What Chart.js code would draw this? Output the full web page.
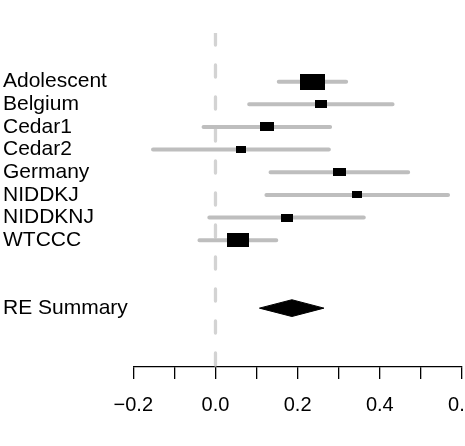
<!DOCTYPE html>
<html>
<head>
<meta charset="utf-8">
<script src="https://cdn.jsdelivr.net/npm/chart.js@4/dist/chart.umd.min.js"></script>
<style>
  html, body { margin: 0; padding: 0; background: #fff; overflow: hidden; }
  /* canvas is a bit wider than the window so the last tick label is cut like the original */
  #wrap { width: 465px; height: 446px; overflow: hidden; }
</style>
</head>
<body>
<div id="wrap"><canvas id="forestChart" width="468" height="446"></canvas></div>
<script>
// study data
const studies = ['Adolescent', 'Belgium', 'Cedar1', 'Cedar2', 'Germany', 'NIDDKJ', 'NIDDKNJ', 'WTCCC'];
const estimates = [0.235, 0.256, 0.125, 0.062, 0.301, 0.345, 0.173, 0.054];
const lower = [0.154, 0.082, -0.029, -0.152, 0.134, 0.124, -0.015, -0.039];
const upper = [0.318, 0.431, 0.279, 0.276, 0.469, 0.566, 0.361, 0.148];
const studyRows = [11, 10, 9, 8, 7, 6, 5, 4];

const summaryLabel = 'RE Summary';
const summaryRow = 1;
const summaryEst = 0.186;
const summaryLower = 0.107;
const summaryUpper = 0.264;

const xTicks = [-0.2, -0.1, 0.0, 0.1, 0.2, 0.3, 0.4, 0.5, 0.6];
const xTickLabels = ['\u22120.2', '', '0.0', '', '0.2', '', '0.4', '', '0.6'];

// row range of the plot region
const yMin = -1.6;
const yMax = 13.15;
const diamondHalf = 0.37;

// boxes sized by precision (1 / CI width), like a forest plot does
function makeBox(lo, hi) {
  const w = Math.round(1.5 + 3.8 / (hi - lo));
  const h = Math.round(w * 0.65);
  const c = document.createElement('canvas');
  c.width = w;
  c.height = h;
  const g = c.getContext('2d');
  g.fillStyle = '#000';
  g.fillRect(0, 0, w, h);
  return c;
}
const boxImages = studies.map((s, i) => makeBox(lower[i], upper[i]));

// CI segments, with a null point between them to break the line
const ciData = [];
studies.forEach((s, i) => {
  ciData.push({ x: lower[i], y: studyRows[i] });
  ciData.push({ x: upper[i], y: studyRows[i] });
  ciData.push({ x: estimates[i], y: null });
});

const diamondData = [
  { x: summaryLower, y: summaryRow },
  { x: summaryEst, y: summaryRow + diamondHalf },
  { x: summaryUpper, y: summaryRow },
  { x: summaryEst, y: summaryRow - diamondHalf },
  { x: summaryLower, y: summaryRow }
];

const rowLabels = {};
studies.forEach((s, i) => { rowLabels[studyRows[i]] = s; });
rowLabels[summaryRow] = summaryLabel;
const labelRows = studyRows.concat([summaryRow]);

const ctx = document.getElementById('forestChart').getContext('2d');
new Chart(ctx, {
  type: 'scatter',
  data: {
    datasets: [
      {
        label: 'zero',
        data: [{ x: 0, y: yMax }, { x: 0, y: yMin }],
        showLine: true,
        borderColor: '#d3d3d3',
        borderWidth: 3.3,
        borderDash: [12, 20],
        borderCapStyle: 'round',
        pointRadius: 0,
        order: 5
      },
      {
        label: 'ci',
        data: ciData,
        showLine: true,
        spanGaps: false,
        borderColor: '#bebebe',
        borderWidth: 4,
        borderCapStyle: 'round',
        pointRadius: 0,
        order: 3
      },
      {
        label: 'boxes',
        data: studies.map((s, i) => ({ x: estimates[i], y: studyRows[i] })),
        pointStyle: boxImages,
        pointRadius: 5,
        order: 1
      },
      {
        label: 'summary',
        data: diamondData,
        showLine: true,
        fill: 'shape',
        tension: 0,
        backgroundColor: '#000',
        borderColor: '#000',
        borderWidth: 1,
        pointRadius: 0,
        order: 1
      }
    ]
  },
  options: {
    responsive: false,
    animation: false,
    events: [],
    layout: { padding: { left: 3, top: 33, right: 0, bottom: 0 } },
    plugins: {
      legend: { display: false },
      tooltip: { enabled: false }
    },
    scales: {
      x: {
        type: 'linear',
        position: 'bottom',
        min: -0.2,
        max: 0.6,
        afterBuildTicks: (scale) => { scale.ticks = xTicks.map(v => ({ value: v })); },
        afterFit: (scale) => {
          scale.height = 79;
          scale.paddingLeft = 0;
          scale.paddingRight = 0;
        },
        grid: {
          drawOnChartArea: false,
          drawTicks: true,
          tickLength: 12,
          color: '#000',
          lineWidth: 1.3
        },
        border: { display: true, color: '#000', width: 1.3 },
        ticks: {
          autoSkip: false,
          maxRotation: 0,
          padding: 14,
          color: '#000',
          font: { family: '"Liberation Sans", Arial, sans-serif', size: 20 },
          callback: (v, i) => xTickLabels[i]
        }
      },
      y: {
        type: 'linear',
        position: 'left',
        min: yMin,
        max: yMax,
        afterBuildTicks: (scale) => { scale.ticks = labelRows.map(v => ({ value: v })); },
        afterFit: (scale) => {
          scale.width = 130.3;
          scale.paddingTop = 0;
          scale.paddingBottom = 0;
        },
        grid: { display: false },
        border: { display: false },
        ticks: {
          autoSkip: false,
          crossAlign: 'far',
          padding: 0,
          color: '#000',
          font: { family: '"Liberation Sans", Arial, sans-serif', size: 21 },
          callback: (v) => rowLabels[v] || ''
        }
      }
    }
  }
});
</script>
</body>
</html>
